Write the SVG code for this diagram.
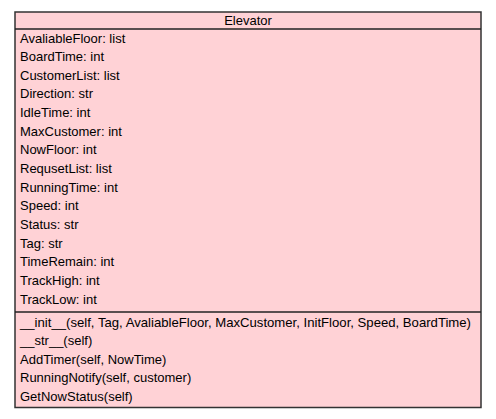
<svg xmlns="http://www.w3.org/2000/svg" width="496" height="419" viewBox="0 0 496 419">
<style>
.box{fill:#ffd2d6;stroke:#333;stroke-width:1.5}
.sep{stroke:#222;stroke-width:1.5}
text{font-family:"Liberation Sans",Arial,sans-serif;font-size:13px;fill:#000}
</style>
<rect width="496" height="419" fill="#fff"/>
<g id="Elevator">
<rect class="box" x="15" y="12" width="466" height="395.5"/>
<line class="sep" x1="15" y1="29" x2="481" y2="29"/>
<line class="sep" x1="15" y1="312" x2="481" y2="312"/>
<text x="248" y="24.5" text-anchor="middle">Elevator</text>
<text x="20" y="42.5">AvaliableFloor: list</text>
<text x="20" y="61.1">BoardTime: int</text>
<text x="20" y="79.8">CustomerList: list</text>
<text x="20" y="98.4">Direction: str</text>
<text x="20" y="117.1">IdleTime: int</text>
<text x="20" y="135.7">MaxCustomer: int</text>
<text x="20" y="154.4">NowFloor: int</text>
<text x="20" y="173">RequsetList: list</text>
<text x="20" y="191.7">RunningTime: int</text>
<text x="20" y="210.3">Speed: int</text>
<text x="20" y="229">Status: str</text>
<text x="20" y="247.6">Tag: str</text>
<text x="20" y="266.3">TimeRemain: int</text>
<text x="20" y="284.9">TrackHigh: int</text>
<text x="20" y="303.6">TrackLow: int</text>
<text x="20" y="326.5" textLength="451" lengthAdjust="spacingAndGlyphs">__init__(self, Tag, AvaliableFloor, MaxCustomer, InitFloor, Speed, BoardTime)</text>
<text x="20" y="345">__str__(self)</text>
<text x="20" y="363.5">AddTimer(self, NowTime)</text>
<text x="20" y="382">RunningNotify(self, customer)</text>
<text x="20" y="400.5">GetNowStatus(self)</text>
</g>
<g id="connectors"/>
</svg>
